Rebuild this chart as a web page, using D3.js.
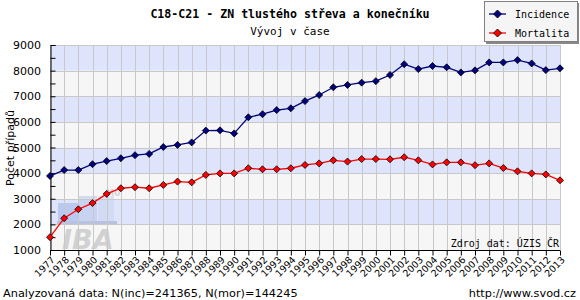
<!DOCTYPE html>
<html><head><meta charset="utf-8">
<script src="https://cdn.jsdelivr.net/npm/d3@7"></script>
<style>body{margin:0;background:#fff}svg{display:block}</style>
</head><body>
<svg id="c" width="580" height="300"></svg>
<script>
const years = d3.range(1977, 2014);
const incidence = [3890,4120,4120,4350,4470,4580,4700,4750,5020,5100,5200,5660,5670,5550,6180,6300,6460,6530,6810,7050,7350,7440,7530,7590,7830,8250,8060,8180,8130,7930,8010,8320,8320,8410,8280,8020,8090];
const mortality = [1500,2240,2590,2830,3190,3410,3450,3410,3540,3670,3640,3930,3990,3990,4190,4150,4150,4190,4320,4380,4500,4450,4550,4550,4540,4620,4500,4340,4420,4420,4310,4380,4200,4070,3990,3950,3720];
const seriesNames = ["Incidence","Mortalita"];
const yTicks = [1000,2000,3000,4000,5000,6000,7000,8000,9000];
const title = "C18-C21 - ZN tlustého střeva a konečníku";
const subtitle = "Vývoj v čase";
const yTitle = "Počet případů";
const footerLeft = "Analyzovaná data: N(inc)=241365, N(mor)=144245";
const footerRight = "http://www.svod.cz";
const source = "Zdroj dat: ÚZIS ČR";

const svg = d3.select("#c");
const L=50, R=560, T=45, B=250;
const x = d3.scaleLinear().domain([1977,2013]).range([L,R]);
const y = d3.scaleLinear().domain([1000,9000]).range([B,T]);
const mono = "'DejaVu Sans Mono', monospace";
const sans = "'DejaVu Sans', Verdana, sans-serif";

// bands
const bands = d3.range(1000, 9000, 1000);
svg.append("g").selectAll("rect").data(bands).join("rect")
  .attr("x", L).attr("width", R-L)
  .attr("y", d=>y(d+1000)).attr("height", d=>y(d)-y(d+1000))
  .attr("fill", d=> ((d/1000)%2===0) ? "#dde4fb" : "#f6f6f6");

// watermark
const wm = svg.append("g").attr("opacity",0.55);
wm.append("rect").attr("x",58).attr("y",203).attr("width",20).attr("height",19).attr("fill","#9fb4e6");
wm.append("rect").attr("x",79).attr("y",196).attr("width",18).attr("height",26).attr("fill","#b7c6ec");
wm.append("rect").attr("x",98).attr("y",196).attr("width",16).attr("height",26).attr("fill","#c9d4f0");
wm.append("rect").attr("x",57).attr("y",221).attr("width",60).attr("height",3).attr("fill","#9aa8c8");
wm.append("text").attr("x",62).attr("y",249).attr("font-family","'DejaVu Sans', sans-serif")
  .attr("font-weight","bold").attr("font-style","italic").attr("font-size",27).attr("fill","#b4b4b4").text("IBA");
wm.append("text").attr("x",106).attr("y",196).attr("font-family",sans)
  .attr("font-weight","bold").attr("font-size",8).attr("fill","#b4b4b4").text("MU");

// grid
svg.append("g").selectAll("line").data(years).join("line")
  .attr("x1", d=>x(d)+0.5).attr("x2", d=>x(d)+0.5).attr("y1",T).attr("y2",B)
  .attr("stroke","#c8c8c8").attr("shape-rendering","crispEdges");
svg.append("g").selectAll("line").data(yTicks).join("line")
  .attr("x1",L).attr("x2",R).attr("y1",d=>Math.round(y(d))+0.5).attr("y2",d=>Math.round(y(d))+0.5)
  .attr("stroke","#c8c8c8").attr("shape-rendering","crispEdges");

// axes
const yAx = d3.axisLeft(y).tickValues(d3.range(1000,9001,500)).tickSize(-5).tickFormat(()=>"" );
const gy = svg.append("g").attr("transform",`translate(${L+0.5},0)`).call(yAx);
gy.select(".domain").attr("stroke","#000");
gy.selectAll(".tick line").attr("stroke","#000");
svg.append("g").selectAll("text").data(yTicks).join("text")
  .attr("x",L-9).attr("y",d=>y(d)+4).attr("text-anchor","end")
  .attr("font-family",sans).attr("font-size",11).attr("fill","#000").text(d=>d);

const xAx = d3.axisBottom(x).tickValues(years).tickSize(5).tickFormat(d3.format("d"));
const gx = svg.append("g").attr("transform",`translate(0,${B+0.5})`).call(xAx);
gx.select(".domain").attr("stroke","#000").attr("d",`M${L},0H${R}`);
gx.selectAll(".tick line").attr("stroke","#000");
gx.selectAll(".tick text").attr("font-family",sans).attr("font-size",9.5).attr("fill","#000")
  .attr("text-anchor","end").attr("dy",0).attr("y",0)
  .attr("transform","translate(5,10) rotate(-45)");

// lines
const series = [
  {name:seriesNames[0], vals:incidence, color:"#000080", mk:"#000080"},
  {name:seriesNames[1], vals:mortality, color:"#ff0000", mk:"#ff0000"}
];
const line = d3.line().x((d,i)=>x(years[i])).y(d=>y(d));
const diamond = (cx,cy,s)=>`M${cx},${cy-s}L${cx+s},${cy}L${cx},${cy+s}L${cx-s},${cy}Z`;
series.forEach(s=>{
  svg.append("path").attr("d",line(s.vals)).attr("fill","none").attr("stroke",s.color).attr("stroke-width",1.3);
  svg.append("g").selectAll("path").data(s.vals).join("path")
    .attr("d",(d,i)=>diamond(x(years[i]),y(d),3.5))
    .attr("fill",s.mk).attr("stroke","#000").attr("stroke-width",0.8);
});

// titles
svg.append("text").attr("x",290).attr("y",18).attr("text-anchor","middle")
  .attr("font-family",mono).attr("font-weight","bold").attr("font-size",11.6).text(title);
svg.append("text").attr("x",290).attr("y",35).attr("text-anchor","middle")
  .attr("font-family",mono).attr("font-size",11).text(subtitle);
svg.append("text").attr("transform","translate(14,148) rotate(-90)").attr("text-anchor","middle")
  .attr("font-family",sans).attr("font-size",11).text(yTitle);
svg.append("text").attr("x",559).attr("y",247).attr("text-anchor","end")
  .attr("font-family",mono).attr("font-size",10).text(source);
svg.append("text").attr("x",3).attr("y",297)
  .attr("font-family",sans).attr("font-size",11.3).text(footerLeft);
svg.append("text").attr("x",576).attr("y",297).attr("text-anchor","end")
  .attr("font-family",sans).attr("font-size",11.3).text(footerRight);

// legend
const lg = svg.append("g");
lg.append("rect").attr("x",486).attr("y",3).attr("width",93).attr("height",41).attr("fill","#888");
lg.append("rect").attr("x",484.5).attr("y",1.5).attr("width",93).attr("height",40)
  .attr("fill","#f5f5f5").attr("stroke","#808080");
series.forEach((s,i)=>{
  const cy = 14 + i*19;
  lg.append("line").attr("x1",489).attr("x2",506).attr("y1",cy).attr("y2",cy).attr("stroke",s.color).attr("stroke-width",1.3);
  lg.append("path").attr("d",diamond(497.5,cy,4)).attr("fill",s.mk).attr("stroke","#000").attr("stroke-width",0.8);
  lg.append("text").attr("x",515).attr("y",cy+3.5).attr("font-family",mono).attr("font-size",10).text(s.name);
});
</script>
</body></html>
